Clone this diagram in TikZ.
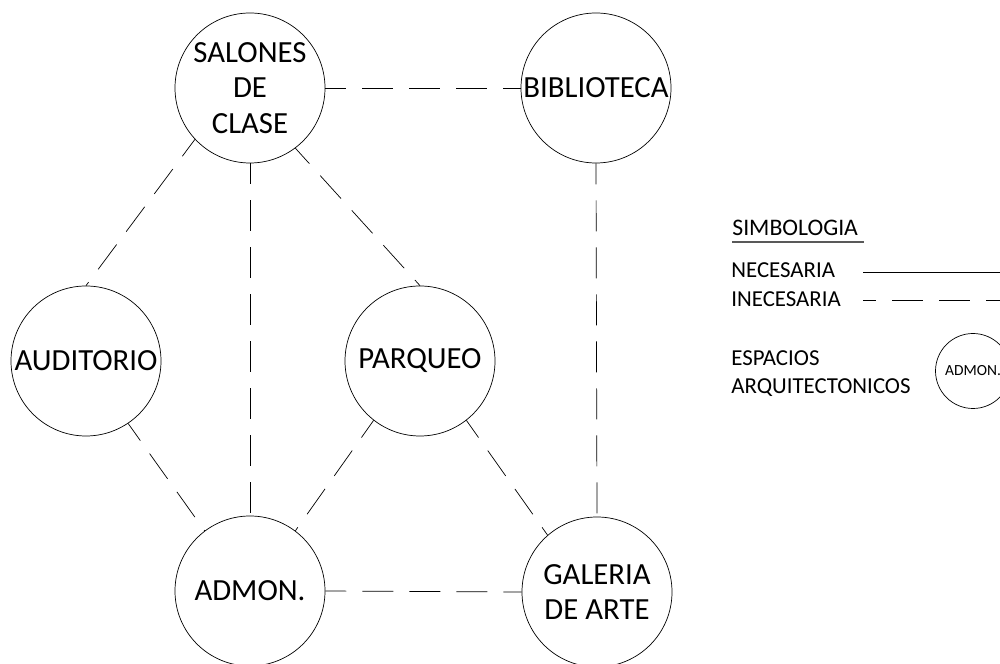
\documentclass[tikz,border=0pt]{standalone}
\usepackage{fontspec}
\setmainfont{Carlito}
\begin{document}
\begin{tikzpicture}[x = .2mm, y = -.2mm,
	espacio/.style = {draw, circle, minimum size = 3cm, inner sep = 0pt, align = center, font = \fontsize{17.5}{20}\selectfont},
	relacion/.style = {dash pattern = on .62cm off .32cm, dash phase = .2cm},
	texto/.style = {anchor = west, inner sep = 0pt, align = left, font = \fontsize{13}{16}\selectfont}]
	\useasboundingbox (0,0) rectangle (1000,664);
	% Espacios
	\node[espacio] (salones) at (250,88) {SALONES\\DE\\CLASE};
	\node[espacio] (biblioteca) at (596,88) {BIBLIOTECA};
	\node[espacio] (auditorio) at (86,361) {AUDITORIO};
	\node[espacio] (parqueo) at (420,361) {PARQUEO};
	\node[espacio] (admon) at (250,591) {ADMON.};
	\node[espacio] (galeria) at (597,592) {GALERIA\\DE ARTE};
	% Relaciones
	\foreach \a/\b in {salones.east/biblioteca.west, salones.223/auditorio.north, salones.south/admon.north, salones.307/parqueo.north, biblioteca.south/galeria.north, auditorio.304/admon.127, parqueo.232/admon.53, parqueo.308/galeria.131, admon.east/galeria.west}{\draw[relacion] (\a) -- (\b);}
	% Simbologia
	\node[texto, font = \fontsize{13.5}{15}\selectfont] (simbologia) at (732,228) {SIMBOLOGIA};
	\draw[black!65, line width = 1.1pt] ([yshift = -3.5pt]simbologia.south west) -- ([xshift = 3pt, yshift = -3.5pt]simbologia.south east);
	\node[texto] (necesaria) at (731,270) {NECESARIA};
	\node[texto] (inecesaria) at (731,299) {INECESARIA};
	\coordinate (n1) at (863,272); \coordinate (n2) at (1000,272);
	\coordinate (i1) at (863,300); \coordinate (i2) at (1000,300);
	\draw (n1) -- (n2);
	\draw[dash pattern = on .62cm off .32cm, dash phase = .36cm] (i1) -- (i2);
	\node[texto] (espacios) at (731,374) {ESPACIOS\\ARQUITECTONICOS};
	\node[draw, circle, minimum size = 1.5cm, inner sep = 0pt, font = \fontsize{8.8}{10}\selectfont] (leyenda) at (973,371) {ADMON.};
\end{tikzpicture}
\end{document}
